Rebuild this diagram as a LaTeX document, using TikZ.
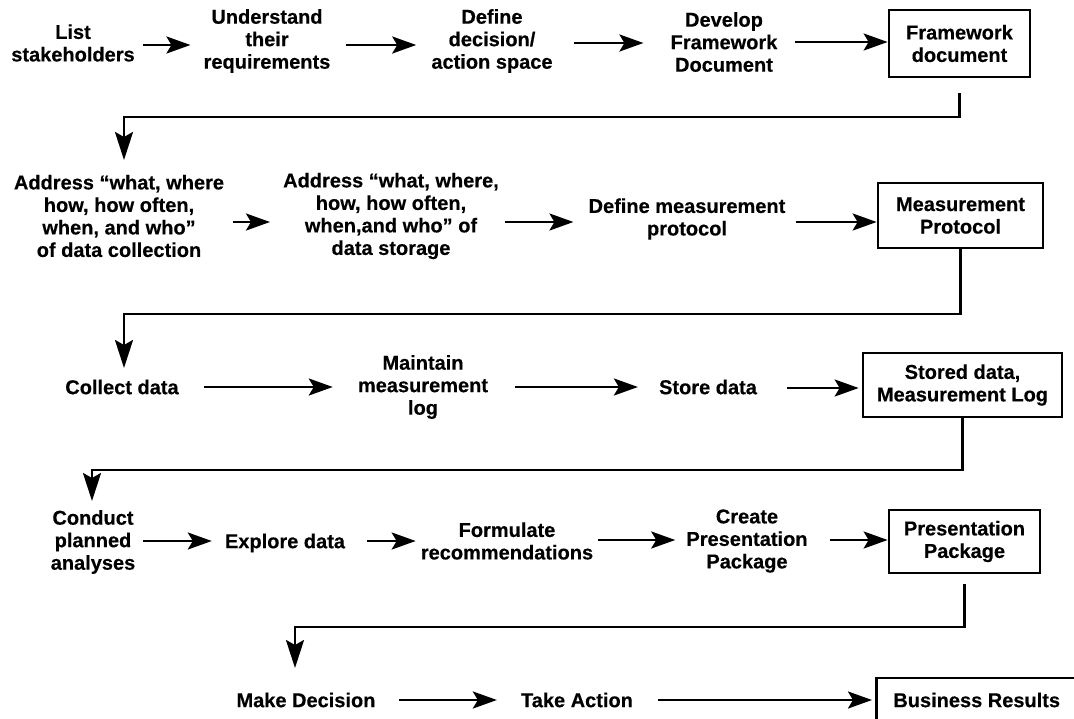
\documentclass[tikz,border=0pt]{standalone}
\usepackage{fontspec}
\setmainfont[BoldFeatures={FakeBold=0.4}]{Liberation Sans}
\usetikzlibrary{arrows.meta}
\begin{document}
\begin{tikzpicture}[x=1pt,y=-1pt,
  txt/.style={font=\bfseries\fontsize{20}{22.5}\selectfont, align=center, inner sep=0pt},
  box/.style={txt, draw, line width=2.7pt},
  arr/.style={line width=2.6pt, -{Stealth[length=24pt,width=17pt,inset=5pt]}},
  conn/.style={line width=2.6pt, -{Stealth[length=28pt,width=18pt,inset=5pt]}}]
\useasboundingbox (0,0) rectangle (1074,718);

% Row 1
\node[txt] (n1) at (73,43) {List\\stakeholders};
\node[txt] (n2) at (267,41) {Understand\\their\\requirements};
\node[txt] (n3) at (492,41) {Define\\decision/\\action space};
\node[txt] (n4) at (724,42) {Develop\\Framework\\Document};
\node[box, minimum width=141pt, minimum height=67pt] (b1) at (959.5,43.5) {Framework\\document};

\draw[arr, shorten <=8pt, shorten >=13pt] ([yshift=-2pt]n1.east) -- ([yshift=-2pt]n1.east -| n2.west);
\draw[arr, shorten <=15pt, shorten >=15pt] ([yshift=-4pt]n2.east) -- ([yshift=-4pt]n2.east -| n3.west);
\draw[arr, shorten <=21pt, shorten >=27pt] ([yshift=-2pt]n3.east) -- ([yshift=-2pt]n3.east -| n4.west);
\draw[arr, shorten <=17pt] (n4.east) -- (n4.east -| b1.west);

\coordinate (k1a) at (124,117);
\coordinate (k1b) at (124,160);
\draw[conn, shorten <=15pt] (b1.south) |- (k1a) -- (k1b);

% Row 2
\node[txt] (n5) at (119,216) {Address “what, where\\how, how often,\\when, and who”\\of data collection};
\node[txt] (n6) at (391,216) {Address “what, where,\\how, how often,\\when,and who” of\\data storage};
\node[txt] (n7) at (687,219) {Define measurement\\protocol};
\node[box, minimum width=165pt, minimum height=65pt] (b2) at (960.5,215.5) {Measurement\\Protocol};

\draw[arr, shorten <=9pt, shorten >=13pt] ([yshift=-6pt]n5.east) -- ([yshift=-6pt]n5.east -| n6.west);
\draw[arr, shorten <=6pt, shorten >=15pt] ([yshift=-6pt]n6.east) -- ([yshift=-6pt]n6.east -| n7.west);
\draw[arr, shorten <=10pt] ([yshift=-3pt]n7.east) -- ([yshift=-3pt]n7.east -| b2.west);

\coordinate (k2a) at (124,314);
\coordinate (k2b) at (124,368);
\draw[conn] (b2.south) |- (k2a) -- (k2b);

% Row 3
\node[txt] (n8) at (122,387) {Collect data};
\node[txt] (n9) at (423,387) {Maintain\\measurement\\log};
\node[txt] (n10) at (708,387) {Store data};
\node[box, minimum width=199pt, minimum height=64pt] (b3) at (962.5,385) {Stored data,\\Measurement Log};

\draw[arr, shorten <=25pt, shorten >=25pt] (n8.east) -- (n8.east -| n9.west);
\draw[arr, shorten <=27pt, shorten >=21pt] (n9.east) -- (n9.east -| n10.west);
\draw[arr, shorten <=30pt, shorten >=3pt] ([yshift=-1pt]n10.east) -- ([yshift=-1pt]n10.east -| b3.west);

\coordinate (k3a) at (92,470);
\coordinate (k3b) at (92,501);
\draw[conn] (b3.south) |- (k3a) -- (k3b);

% Row 4
\node[txt] (n11) at (93,542) {Conduct\\planned\\analyses};
\node[txt] (n12) at (285,543) {Explore data};
\node[txt] (n13) at (507,541) {Formulate\\recommendations};
\node[txt] (n14) at (747,541) {Create\\Presentation\\Package};
\node[box, minimum width=151pt, minimum height=63pt] (b4) at (964.5,541.5) {Presentation\\Package};

\draw[arr, shorten <=8pt, shorten >=13pt] ([yshift=1pt]n11.east) -- ([yshift=1pt]n11.east -| n12.west);
\draw[arr, shorten <=22pt, shorten >=5pt] ([yshift=2pt]n12.east) -- ([yshift=2pt]n12.east -| n13.west);
\draw[arr, shorten <=5pt, shorten >=11pt] ([yshift=1pt]n13.east) -- ([yshift=1pt]n13.east -| n14.west);
\draw[arr, shorten <=22pt] ([yshift=1pt]n14.east) -- ([yshift=1pt]n14.east -| b4.west);

\coordinate (k4a) at (295,627);
\coordinate (k4b) at (295,668);
\draw[conn, shorten <=10pt] (b4.south) |- (k4a) -- (k4b);

% Row 5
\node[txt] (n15) at (306,700) {Make Decision};
\node[txt] (n16) at (577,700) {Take Action};
\node[box, anchor=west, inner xsep=17pt, minimum height=44pt] (b5) at (875,700) {Business Results};

\draw[arr, shorten <=23pt, shorten >=24pt] (n15.east) -- (n15.east -| n16.west);
\draw[arr, shorten <=25pt, shorten >=3pt] (n16.east) -- (n16.east -| b5.west);
\end{tikzpicture}
\end{document}
